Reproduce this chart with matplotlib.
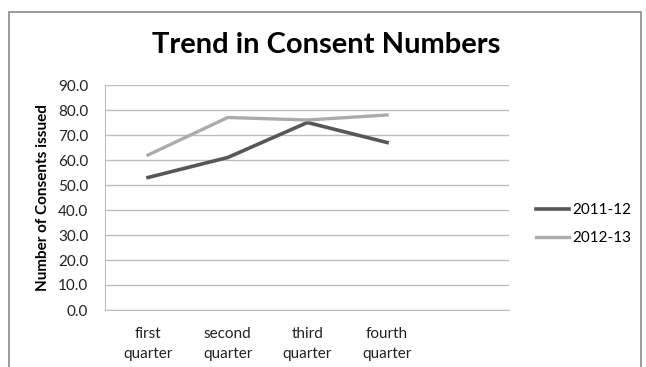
import matplotlib.pyplot as plt
from matplotlib.patches import Rectangle

# Quarterly consent counts
quarters = ["first\nquarter", "second\nquarter", "third\nquarter", "fourth\nquarter"]
consents_2011 = [53, 61, 75, 67]
consents_2012 = [62, 77, 76, 78]
series_names = ["2011-12", "2012-13"]
y_ticks = [0, 10, 20, 30, 40, 50, 60, 70, 80, 90]

W, H = 646, 367
plt.rcParams['font.family'] = ['Lato', 'DejaVu Sans']
fig = plt.figure(figsize=(W / 100, H / 100), dpi=100)

# outer chart border
fig.patches.append(Rectangle((9 / W, -0.05), (641 - 9) / W, 1.05 - 12 / H,
                             transform=fig.transFigure, fill=False,
                             edgecolor="#8a8a8a", linewidth=1.2))

ax = fig.add_axes([105 / W, 1 - 310 / H, 404 / W, 225 / H])
x = list(range(len(quarters)))
ax.plot(x, consents_2011, color="#575757", linewidth=2.6, label=series_names[0])
ax.plot(x, consents_2012, color="#ababab", linewidth=2.4, label=series_names[1])

ax.set_xlim(-0.54, 4.53)
ax.set_ylim(0, 90)
ax.set_yticks(y_ticks)
ax.set_yticklabels([f"{v:.1f}" for v in y_ticks], fontsize=11, color="#222222")
ax.set_xticks(x)
ax.set_xticklabels(quarters, fontsize=11, color="#222222", linespacing=1.55)
ax.tick_params(length=0)
ax.tick_params(axis="y", pad=12)
ax.tick_params(axis="x", pad=12)
ax.grid(axis="y", color="#bdbdbd", linewidth=1.0)
ax.set_axisbelow(True)
for side in ["top", "right"]:
    ax.spines[side].set_visible(False)
ax.spines["left"].set_color("#bdbdbd")
ax.spines["bottom"].set_color("#bdbdbd")

ax.set_ylabel("Number of Consents issued", fontsize=11, fontweight="bold", labelpad=6)

fig.text(326 / W, 1 - 45 / H, "Trend in Consent Numbers", ha="center", va="center",
         fontsize=21, fontweight="bold")

fig.legend(loc="center left", bbox_to_anchor=(522 / W, 1 - 224 / H), frameon=False,
           fontsize=11, handlelength=2.2, handletextpad=0.2, labelspacing=0.9)

fig.savefig("out.png", dpi=100)
